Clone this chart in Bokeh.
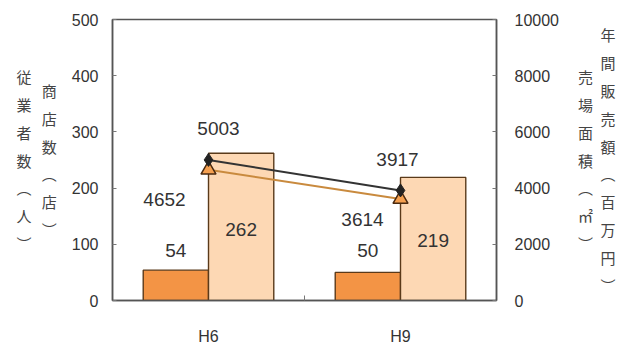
from bokeh.plotting import figure
from bokeh.models import Range1d, LinearAxis, FixedTicker, Label
from bokeh.embed import file_html
from bokeh.resources import INLINE

categories = ["H6", "H9"]
shops = [54, 50]            # 商店数（店）
employees = [262, 219]      # 従業者数（人）
sales = [5003, 3917]        # 年間販売額（百万円）
floor_area = [4652, 3614]   # 売場面積（㎡）

left_ticks = [0, 100, 200, 300, 400, 500]
right_ticks = [0, 2000, 4000, 6000, 8000, 10000]

title_shops = "商店数︵店︶"
title_emp = "従業者数︵人︶"
title_area = "売場面積︵㎡︶"
title_sales = "年間販売額︵百万円︶"

FONT = "Liberation Sans"
JP = "Noto Sans CJK JP"
TXT = "#333333"

p = figure(width=633, height=349, x_range=Range1d(0, 2), y_range=Range1d(0, 500),
           output_backend="svg", toolbar_location=None,
           min_border_left=112, min_border_right=137, min_border_top=19, min_border_bottom=49)
p.background_fill_color = "white"
p.border_fill_color = "white"
p.outline_line_color = "#555555"
p.outline_line_width = 1.5
p.xgrid.visible = False
p.ygrid.visible = False

p.extra_y_ranges = {"r": Range1d(0, 10000)}

xc = [i + 0.5 for i in range(len(categories))]

# bars
p.vbar(x=[c - 0.17 for c in xc], top=shops, width=0.34, bottom=0,
       fill_color="#F39445", line_color="#5a3a1a", line_width=1.4)
p.vbar(x=[c + 0.17 for c in xc], top=employees, width=0.34, bottom=0,
       fill_color="#FDD8B4", line_color="#5a3a1a", line_width=1.4)

# lines
p.line(x=xc, y=floor_area, y_range_name="r", line_color="#C98A3E", line_width=2)
p.line(x=xc, y=sales, y_range_name="r", line_color="#333333", line_width=2)
p.scatter(x=xc, y=floor_area, y_range_name="r", marker="triangle", size=15,
          fill_color="#F5A050", line_color="#4a2a10", line_width=1.5)
p.scatter(x=xc, y=sales, y_range_name="r", marker="diamond", size=13,
          fill_color="#222222", line_color="#222222")

# value labels
def vlabel(x, y, txt, dx, dy, rng="default"):
    p.add_layout(Label(x=x, y=y, text=txt, x_offset=dx, y_offset=dy, y_range_name=rng,
                       text_font=FONT, text_font_size="19px", text_color=TXT,
                       text_align="center", text_baseline="middle"))

sales_off = [(10, 31), (-3, 31)]
area_off = [(-44, -30), (-38, -21)]
shop_off = [(0, 20), (0, 22)]
emp_off = [(0, -76), (0, -63)]
for i, c in enumerate(xc):
    vlabel(c, sales[i], str(sales[i]), sales_off[i][0], sales_off[i][1], "r")
    vlabel(c, floor_area[i], str(floor_area[i]), area_off[i][0], area_off[i][1], "r")
    vlabel(c - 0.17, shops[i], str(shops[i]), shop_off[i][0], shop_off[i][1])
    vlabel(c + 0.17, employees[i], str(employees[i]), emp_off[i][0], emp_off[i][1])

# axes
ax_style = dict(major_label_text_font=FONT, major_label_text_font_size="16px",
                major_label_text_color=TXT, axis_line_color="#555555", axis_line_width=1.5,
                major_tick_in=4, major_tick_out=0, major_tick_line_color="#777777",
                minor_tick_line_color=None)
lab_style = dict(axis_label_text_font=JP, axis_label_text_font_size="15px",
                 axis_label_text_font_style="normal", axis_label_text_color="#444444",
                 axis_label_orientation="horizontal", axis_label_text_line_height=1.33)

def vert(s):
    return "\n".join(list(s))

ly = p.yaxis[0]
ly.ticker = FixedTicker(ticks=left_ticks)
ly.major_label_standoff = 14
for k, v in ax_style.items():
    setattr(ly, k, v)
for k, v in lab_style.items():
    setattr(ly, k, v)
ly.axis_label = vert(title_shops)
ly.axis_label_standoff = 12

ly2 = LinearAxis(ticker=FixedTicker(ticks=[]), axis_line_color=None, major_tick_in=0,
                 major_tick_out=0, minor_tick_line_color=None, major_label_standoff=0,
                 axis_label=vert(title_emp), axis_label_standoff=7, **lab_style)
p.add_layout(ly2, "left")

ra = LinearAxis(y_range_name="r", ticker=FixedTicker(ticks=right_ticks), **ax_style, **lab_style)
ra.major_label_standoff = 18
ra.axis_label = vert(title_area)
ra.axis_label_standoff = 16
p.add_layout(ra, "right")

ra2 = LinearAxis(y_range_name="r", ticker=FixedTicker(ticks=[]), axis_line_color=None,
                 major_tick_in=0, major_tick_out=0, minor_tick_line_color=None,
                 major_label_standoff=0, axis_label=vert(title_sales),
                 axis_label_standoff=5, **lab_style)
p.add_layout(ra2, "right")

p.xaxis.ticker = FixedTicker(ticks=xc, minor_ticks=[1.0])
p.xaxis.major_label_overrides = {xc[i]: categories[i] for i in range(len(categories))}
p.xaxis.major_label_text_font = FONT
p.xaxis.major_label_text_font_size = "16px"
p.xaxis.major_label_text_color = TXT
p.xaxis.major_tick_line_color = None
p.xaxis.minor_tick_in = 5
p.xaxis.minor_tick_out = 0
p.xaxis.minor_tick_line_color = "#777777"
p.xaxis.axis_line_color = "#555555"
p.xaxis.axis_line_width = 1.5
p.xaxis.major_label_standoff = 21

open("out.html", "w").write(file_html(p, INLINE))
